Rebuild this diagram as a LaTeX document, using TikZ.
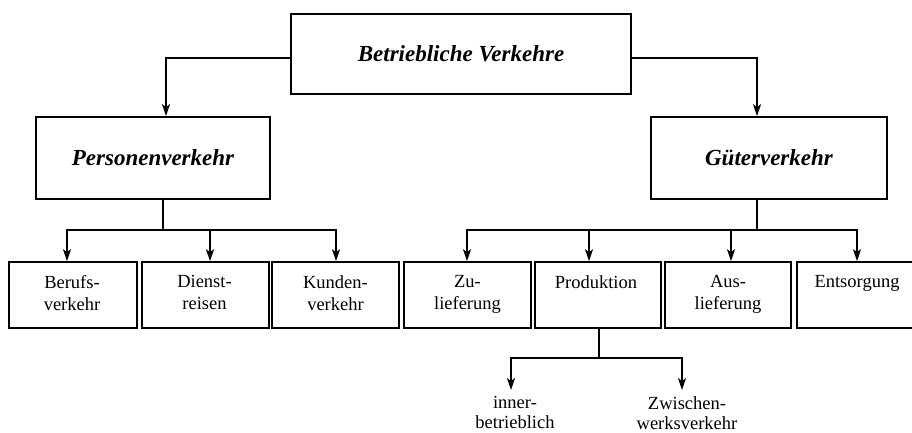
\documentclass[tikz,border=0pt]{standalone}
\usepackage{fontspec}
\setmainfont{Liberation Serif}
\usetikzlibrary{arrows.meta}
\begin{document}
\begin{tikzpicture}[x=1pt,y=-1pt,
  head/.style={draw,line width=1.7pt,inner sep=0pt,
    font=\fontsize{23}{26}\selectfont\bfseries\itshape},
  leaf/.style={draw,line width=1.6pt,inner sep=0pt,minimum height=66pt},
  leaftext/.style={inner sep=0pt,align=center,anchor=north,
    font=\fontsize{18.5}{22}\selectfont},
  link/.style={line width=1.5pt},
  arr/.style={link,-{Stealth[length=12pt,width=8pt,inset=3pt]}}]
\useasboundingbox (0,0) rectangle (912,433);

% top level
\node[head,minimum width=340pt,minimum height=80pt] (top) at (461,54) {Betriebliche Verkehre};
\node[head,minimum width=234pt,minimum height=82pt] (pers) at (153,158) {Personenverkehr};
\node[head,minimum width=236pt,minimum height=82pt] (gut) at (769,158) {Güterverkehr};

\draw[arr] ([yshift=-4pt]top.west) -| ([xshift=13pt]pers.north);
\draw[arr] ([yshift=-4pt]top.east) -| ([xshift=-12pt]gut.north);

% second level boxes
\node[leaf,minimum width=128pt] (beruf)  at (73,295)  {};
\node[leaf,minimum width=127pt] (dienst) at (205.5,295) {};
\node[leaf,minimum width=127pt] (kunden) at (335.5,295) {};
\node[leaf,minimum width=127pt] (zu)     at (467.5,295) {};
\node[leaf,minimum width=126pt] (prod)   at (598,295) {};
\node[leaf,minimum width=126pt] (aus)    at (728,295) {};
\node[leaf,minimum width=128pt] (ents)   at (861,295) {};

\node[leaftext] (tberuf)  at (72,275)    {Berufs-\\verkehr};
\node[leaftext] (tdienst) at (204.5,275) {Dienst-\\reisen};
\node[leaftext] (tkunden) at (335.5,275) {Kunden-\\verkehr};
\node[leaftext] (tzu)     at (467.5,275) {Zu-\\lieferung};
\node[leaftext] (tprod)   at (596,275)   {Produktion};
\node[leaftext] (taus)    at (728,275)   {Aus-\\lieferung};
\node[leaftext] (tents)   at (857,275)   {Entsorgung};

% Personenverkehr branches
\coordinate (pj) at (163,230);
\draw[link] ([xshift=10pt]pers.south) -- (pj);
\draw[arr] (pj) -| ([xshift=-6pt]beruf.north);
\draw[arr] (pj) -| ([xshift=4.5pt]dienst.north);
\draw[arr] (pj) -| ([xshift=0.5pt]kunden.north);

% Güterverkehr branches
\coordinate (gj) at (757,230);
\draw[link] ([xshift=-12pt]gut.south) -- (gj);
\draw[arr] (gj) -| ([xshift=-0.5pt]zu.north);
\draw[arr] (gj) -| ([xshift=-9pt]prod.north);
\draw[arr] (gj) -| ([xshift=3pt]aus.north);
\draw[arr] (gj) -| ([xshift=-4pt]ents.north);

% Produktion branches
\node[leaftext,font=\fontsize{18.5}{20}\selectfont] (inner) at (515,396) {inner-\\betrieblich};
\node[leaftext,font=\fontsize{18.5}{20}\selectfont] (zw)    at (687,396) {Zwischen-\\werksverkehr};
\coordinate (prj) at (599,358);
\draw[link] ([xshift=1pt]prod.south) -- (prj);
\draw[arr] (prj) -| ([xshift=-4pt,yshift=6pt]inner.north);
\draw[arr] (prj) -| ([xshift=-5pt,yshift=6pt]zw.north);
\end{tikzpicture}
\end{document}
